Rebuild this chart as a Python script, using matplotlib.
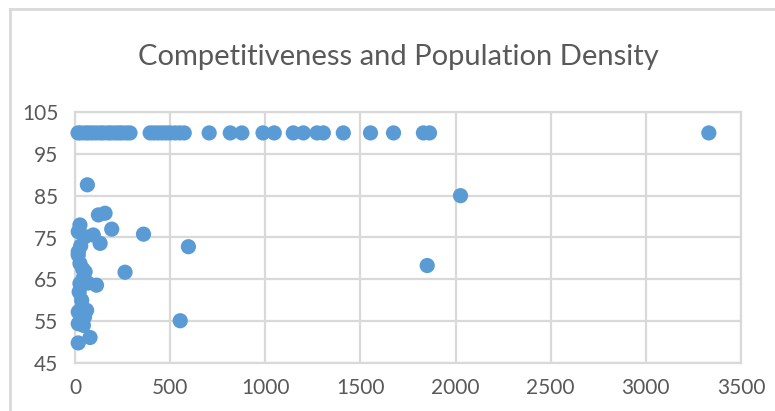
import matplotlib
matplotlib.use("Agg")
import matplotlib.pyplot as plt
from matplotlib.lines import Line2D

plt.rcParams['font.family'] = ['Lato', 'DejaVu Sans']

# population density (x) vs competitiveness score (y)
density_top = [16, 30, 53, 70, 89, 110, 132, 150, 174, 190, 211, 230, 247, 270, 289,
               395, 416, 437, 458, 479, 500, 526, 550, 574, 705, 816, 877, 988, 1047,
               1147, 1200, 1272, 1305, 1410, 1553, 1674, 1831, 1863, 3331]
score_top = [100] * len(density_top)

density_rest = [65, 123, 158, 26, 17, 53, 96, 193, 132, 360, 596, 17,
                17, 26, 40, 53, 263, 26, 113, 68, 35, 17, 61, 17, 44, 553,
                79, 17, 30, 45, 22, 38, 50, 2026, 1851]
score_rest = [87.6, 80.4, 80.8, 78.0, 76.4, 75.2, 75.6, 77.0, 73.6, 75.8, 72.8, 71.6,
              70.8, 68.8, 67.5, 66.8, 66.7, 64.0, 63.6, 64.1, 60.0, 57.2, 57.6, 54.4, 54.0, 55.1,
              51.1, 49.8, 73.0, 65.5, 62.0, 58.5, 56.0, 85.0, 68.3]

x_ticks = [0, 500, 1000, 1500, 2000, 2500, 3000, 3500]
y_ticks = [45, 55, 65, 75, 85, 95, 105]

dot_color = '#5B9BD5'
grid_color = '#D9D9D9'
text_color = '#595959'

fig = plt.figure(figsize=(7.75, 4.11), dpi=100)
ax = fig.add_axes([75 / 775, 48 / 411, (741 - 75) / 775, (363 - 112) / 411])

ax.scatter(density_top + density_rest, score_top + score_rest,
           s=120, color=dot_color, edgecolors='none', zorder=3, clip_on=False)

ax.set_xlim(0, 3500)
ax.set_ylim(45, 105)
ax.set_xticks(x_ticks)
ax.set_yticks(y_ticks)
ax.grid(True, color=grid_color, linewidth=1.6)
ax.set_axisbelow(True)
for side in ax.spines.values():
    side.set_color(grid_color)
    side.set_linewidth(1.6)
ax.tick_params(length=0, labelsize=15, colors=text_color, pad=11)
ax.tick_params(axis='y', pad=12)

fig.suptitle('Competitiveness and Population Density', x=0.514, y=0.862, va='center',
             fontsize=21, color=text_color)

# chart frame (top and left edges)
fig.add_artist(Line2D([10 / 775, 10 / 775], [0, 1 - 9 / 411], color=grid_color,
                      linewidth=2, transform=fig.transFigure))
fig.add_artist(Line2D([10 / 775, 1], [1 - 9 / 411, 1 - 9 / 411], color=grid_color,
                      linewidth=2, transform=fig.transFigure))

fig.savefig('out.png', dpi=100)
